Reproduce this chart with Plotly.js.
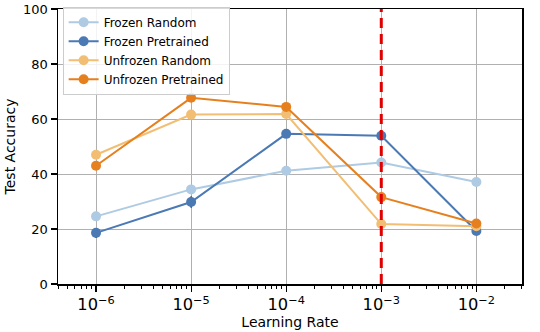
<!DOCTYPE html>
<html>
<head>
<meta charset="utf-8">
<script src="https://cdn.plot.ly/plotly-3.0.1.min.js"></script>
<style>html,body{margin:0;padding:0;background:#fff}#chart{width:540px;height:332px}</style>
</head>
<body>
<div id="chart"></div>
<script>
const learningRates = [1e-6, 1e-5, 1e-4, 1e-3, 1e-2];
const frozenRandom = [24.6, 34.4, 41.2, 44.2, 37.1];
const frozenRandomErr = [0.8, 0.8, 0.8, 0.8, 0.6];
const frozenPretrained = [18.6, 29.8, 54.6, 53.9, 19.3];
const frozenPretrainedErr = [1.8, 2.0, 1.0, 0.8, 1.0];
const unfrozenRandom = [47.0, 61.6, 61.8, 21.8, 21.0];
const unfrozenRandomErr = [0.8, 0.8, 0.8, 0.8, 0.6];
const unfrozenPretrained = [43.0, 67.7, 64.4, 31.6, 22.0];
const unfrozenPretrainedErr = [0.8, 0.8, 0.8, 0.8, 0.6];
const seriesNames = ["Frozen Random", "Frozen Pretrained", "Unfrozen Random", "Unfrozen Pretrained"];
const optimalLR = [1e-3, 1e-3];
const optimalLRSpan = [0, 100];

const colors = ["#aecbe3", "#4a79b4", "#f2be74", "#e6801f"];
const series = [frozenRandom, frozenPretrained, unfrozenRandom, unfrozenPretrained];
const errs = [frozenRandomErr, frozenPretrainedErr, unfrozenRandomErr, unfrozenPretrainedErr];

const traces = series.map((ys, i) => ({
  x: learningRates, y: ys, name: seriesNames[i], type: 'scatter', mode: 'lines+markers',
  line: {color: colors[i], width: 2},
  marker: {color: colors[i], size: 10},
  error_y: {type: 'data', array: errs[i], visible: true, color: '#000', thickness: 1.5, width: 0}
}));
traces.push({
  x: optimalLR, y: optimalLRSpan, type: 'scatter', mode: 'lines', showlegend: false, hoverinfo: 'skip',
  line: {color: '#e00000', width: 3, dash: '10px,6px'}
});

const layout = {
  width: 540, height: 332,
  margin: {l: 58, r: 18, t: 7, b: 48},
  paper_bgcolor: '#fff', plot_bgcolor: '#fff',
  font: {family: 'DejaVu Sans', size: 13, color: '#000'},
  showlegend: true,
  legend: {x: 0.01, y: 1.008, xanchor: 'left', yanchor: 'top', bgcolor: 'rgba(255,255,255,0.85)',
           bordercolor: '#cccccc', borderwidth: 1, font: {family: 'DejaVu Sans', size: 12}, tracegroupgap: 0},
  xaxis: {
    type: 'log', range: [-6.4, -1.52], dtick: 1, exponentformat: 'power',
    showgrid: true, gridcolor: '#b0b0b0', gridwidth: 1,
    showline: true, linecolor: '#000', linewidth: 1.5, mirror: true,
    ticks: 'outside', ticklen: 6, tickwidth: 1.2, tickcolor: '#000',
    minor: {dtick: 'D1', ticks: 'outside', ticklen: 3.5, tickwidth: 1, tickcolor: '#000', showgrid: false},
    zeroline: false,
    title: {text: 'Learning Rate', font: {size: 14}, standoff: 2},
    tickfont: {size: 13}
  },
  yaxis: {
    range: [0, 100], dtick: 20,
    showgrid: true, gridcolor: '#b0b0b0', gridwidth: 1,
    showline: true, linecolor: '#000', linewidth: 1.5, mirror: true,
    ticks: 'outside', ticklen: 6, tickwidth: 1.2, tickcolor: '#000',
    ticklabeloverflow: 'allow',
    zeroline: false,
    title: {text: 'Test Accuracy', font: {size: 14}, standoff: 4},
    tickfont: {size: 13}
  }
};

Plotly.newPlot('chart', traces, layout, {displayModeBar: false, staticPlot: true});
</script>
</body>
</html>
